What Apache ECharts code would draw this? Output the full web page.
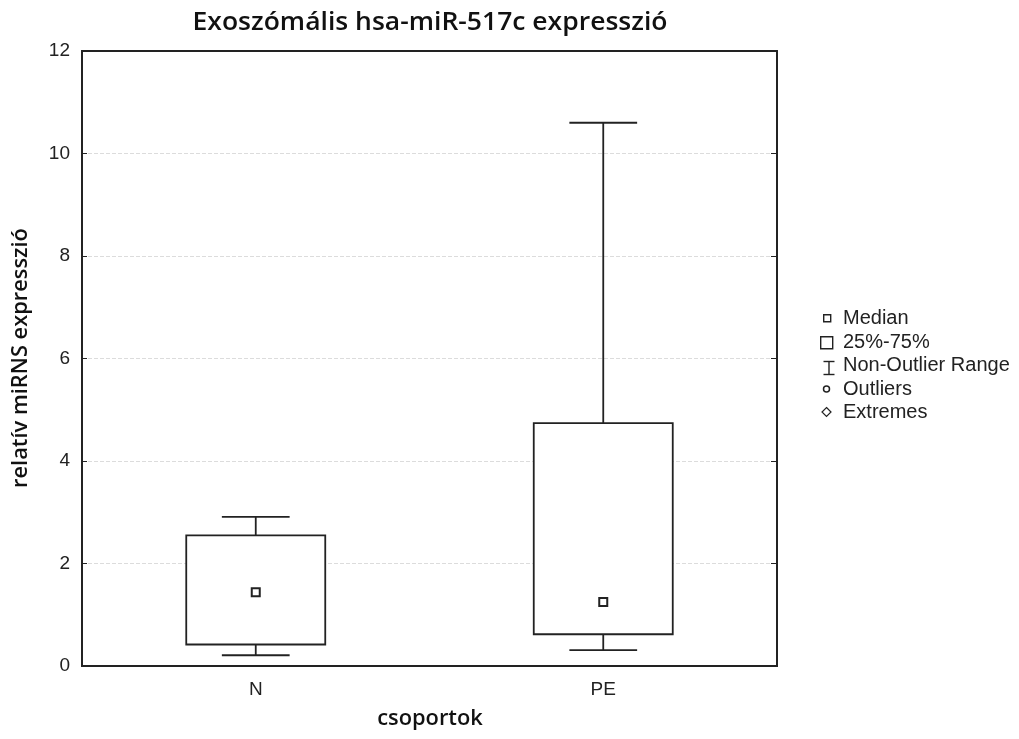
<!DOCTYPE html>
<html>
<head>
<meta charset="utf-8">
<script src="https://cdn.jsdelivr.net/npm/echarts@6/dist/echarts.min.js"></script>
<style>
  html, body { margin: 0; padding: 0; background: #fff; }
  #chart { width: 1019px; height: 739px; }
</style>
</head>
<body>
<div id="chart"></div>
<script>
// Groups on the x axis
const groups = ['N', 'PE'];
// Box statistics per group
const whiskerLow = [0.21, 0.31];
const quartile1 = [0.42, 0.62];
const medians = [1.44, 1.25];
const quartile3 = [2.55, 4.74];
const whiskerHigh = [2.91, 10.6];
// Value axis ticks
const yTicks = [0, 2, 4, 6, 8, 10, 12];

const boxData = groups.map((g, i) => [i, whiskerLow[i], quartile1[i], medians[i], quartile3[i], whiskerHigh[i]]);

const ink = '#222';
const lineW = 1.8;

function renderBox(params, api) {
  const idx = api.value(0);
  const pLow = api.coord([idx, api.value(1)]);
  const pQ1 = api.coord([idx, api.value(2)]);
  const pMed = api.coord([idx, api.value(3)]);
  const pQ3 = api.coord([idx, api.value(4)]);
  const pHigh = api.coord([idx, api.value(5)]);
  const band = api.size([1, 0])[0];
  const boxW = band * 0.40;
  const capW = band * 0.195;
  const x = pMed[0];
  const ls = { stroke: ink, lineWidth: lineW, fill: null };
  const sq = 8;
  return {
    type: 'group',
    children: [
      { type: 'line', shape: { x1: x, y1: pQ3[1], x2: x, y2: pHigh[1] }, style: ls },
      { type: 'line', shape: { x1: x - capW / 2, y1: pHigh[1], x2: x + capW / 2, y2: pHigh[1] }, style: ls },
      { type: 'line', shape: { x1: x, y1: pQ1[1], x2: x, y2: pLow[1] }, style: ls },
      { type: 'line', shape: { x1: x - capW / 2, y1: pLow[1], x2: x + capW / 2, y2: pLow[1] }, style: ls },
      { type: 'rect', shape: { x: x - boxW / 2, y: pQ3[1], width: boxW, height: pQ1[1] - pQ3[1] }, style: { stroke: ink, lineWidth: lineW, fill: '#fff' } },
      { type: 'rect', shape: { x: x - sq / 2, y: pMed[1] - sq / 2, width: sq, height: sq }, style: { stroke: ink, lineWidth: 2, fill: '#fff' } }
    ]
  };
}

// Legend built from graphic primitives
const legendX = 821;
const textX = 843;
const rowY = [318, 342, 365, 389, 412];
const legendFont = { fontFamily: 'Liberation Sans, Arial, sans-serif', fontSize: 20, fill: ink };
const legendLabels = ['Median', '25%-75%', 'Non-Outlier Range', 'Outliers', 'Extremes'];
const legendGraphics = [
  { type: 'rect', left: legendX + 2, top: rowY[0] - 4, shape: { x: 0, y: 0, width: 7, height: 7 }, style: { stroke: ink, lineWidth: 1.4, fill: '#fff' } },
  { type: 'rect', left: legendX - 1, top: rowY[1] - 6, shape: { x: 0, y: 0, width: 12, height: 12 }, style: { stroke: ink, lineWidth: 1.4, fill: '#fff' } },
  { type: 'group', left: legendX, top: rowY[2] - 6, children: [
      { type: 'line', shape: { x1: 0, y1: 0, x2: 11, y2: 0 }, style: { stroke: ink, lineWidth: 1.4 } },
      { type: 'line', shape: { x1: 5.5, y1: 0, x2: 5.5, y2: 13 }, style: { stroke: ink, lineWidth: 1.4 } },
      { type: 'line', shape: { x1: 0, y1: 13, x2: 11, y2: 13 }, style: { stroke: ink, lineWidth: 1.4 } }
  ] },
  { type: 'circle', shape: { cx: legendX + 5.5, cy: rowY[3], r: 3 }, style: { stroke: ink, lineWidth: 1.5, fill: '#fff' } },
  { type: 'polygon', shape: { points: [[legendX + 5.5, rowY[4] - 4.5], [legendX + 10, rowY[4]], [legendX + 5.5, rowY[4] + 4.5], [legendX + 1, rowY[4]]] }, style: { stroke: ink, lineWidth: 1.2, fill: '#fff' } }
].concat(legendLabels.map((t, i) => ({
  type: 'text', x: textX, y: rowY[i], style: Object.assign({ text: t, verticalAlign: 'middle', align: 'left' }, legendFont)
})));

// Title and axis names
const headFont = 'Open Sans, sans-serif';
const textGraphics = [
  { type: 'text', x: 430, y: 23, scaleX: 1.06, style: { text: 'Exoszómális hsa-miR-517c expresszió', align: 'center', verticalAlign: 'middle', fontFamily: headFont, fontWeight: 600, fontSize: 25, fill: '#111' } },
  { type: 'text', x: 430, y: 719, scaleX: 1.04, style: { text: 'csoportok', align: 'center', verticalAlign: 'middle', fontFamily: headFont, fontWeight: 600, fontSize: 21, fill: '#111' } },
  { type: 'text', x: 21, y: 358, rotation: Math.PI / 2, scaleX: 1.04, style: { text: 'relatív miRNS expresszió', align: 'center', verticalAlign: 'middle', fontFamily: headFont, fontWeight: 600, fontSize: 21, fill: '#111' } }
];

const chart = echarts.init(document.getElementById('chart'), null, { renderer: 'canvas' });

const labelFont = { fontFamily: 'Liberation Sans, Arial, sans-serif', fontSize: 19, color: ink };

chart.setOption({
  animation: false,
  backgroundColor: '#fff',
  grid: { left: 82, right: 242, top: 51, bottom: 73, show: true, borderColor: ink, borderWidth: lineW, backgroundColor: 'transparent' },
  xAxis: [
    {
      type: 'category', data: groups, position: 'bottom',
      axisLine: { lineStyle: { color: ink, width: lineW } },
      axisTick: { inside: true, alignWithLabel: true, length: 5, lineStyle: { color: ink } },
      axisLabel: Object.assign({ margin: 14 }, labelFont),
      splitLine: { show: false }
    },
    {
      type: 'category', data: groups, position: 'top',
      axisLine: { lineStyle: { color: ink, width: lineW } },
      axisTick: { inside: true, alignWithLabel: true, length: 5, lineStyle: { color: ink } },
      axisLabel: { show: false }
    }
  ],
  yAxis: [
    {
      type: 'value', min: yTicks[0], max: yTicks[yTicks.length - 1], interval: 2,
      axisLine: { show: true, lineStyle: { color: ink, width: lineW } },
      axisTick: { show: true, inside: true, length: 5, lineStyle: { color: ink } },
      axisLabel: Object.assign({ margin: 12 }, labelFont),
      splitLine: { show: true, showMinLine: false, showMaxLine: false, lineStyle: { color: '#dcdcdc', type: [4, 2], width: 1 } }
    },
    {
      type: 'value', min: yTicks[0], max: yTicks[yTicks.length - 1], interval: 2, position: 'right',
      axisLine: { show: true, lineStyle: { color: ink, width: lineW } },
      axisTick: { show: true, inside: true, length: 6, lineStyle: { color: ink } },
      axisLabel: { show: false },
      splitLine: { show: false }
    }
  ],
  series: [{
    type: 'custom',
    xAxisIndex: 0, yAxisIndex: 0,
    renderItem: renderBox,
    encode: { x: 0, y: [1, 2, 3, 4, 5] },
    data: boxData,
    z: 5
  }],
  graphic: legendGraphics.concat(textGraphics)
});
</script>
</body>
</html>
